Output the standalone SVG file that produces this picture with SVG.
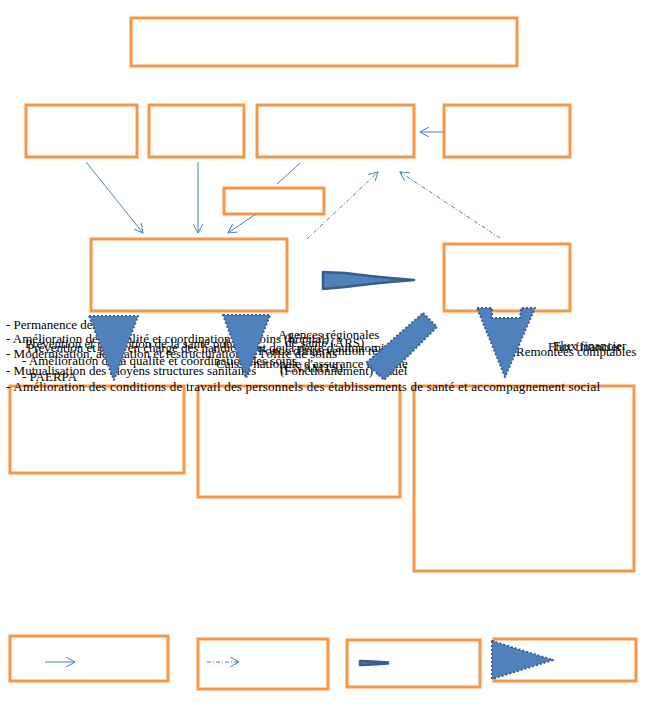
<svg xmlns="http://www.w3.org/2000/svg" width="647" height="708" viewBox="0 0 647 708">
<defs>
<style>
.box{fill:none;stroke:#F79646;stroke-width:3}
.ln{fill:none;stroke:#4A7EBB;stroke-width:1}
.dd{stroke-dasharray:4 2 1 2}
.big{fill:#4F81BD;stroke:#385D8A;stroke-width:2;stroke-dasharray:2 2;stroke-linejoin:round}
.wedge{fill:#4F81BD;stroke:#385D8A;stroke-width:2.5;stroke-linejoin:round}
.t{font-family:"Liberation Serif","Times New Roman",serif;font-size:13px;fill:#000}
</style>
<marker id="ah" viewBox="0 0 10 10" refX="9" refY="5" markerWidth="10" markerHeight="10" markerUnits="userSpaceOnUse" orient="auto">
<path d="M0,0 L9,5 L0,10" fill="none" stroke="#4A7EBB" stroke-width="1"/>
</marker>
</defs>
<rect width="647" height="708" fill="#fff"/>
<g id="n-b1"><rect class="box" x="10" y="386" width="174" height="87"/></g>
<g id="n-b2"><rect class="box" x="198" y="386" width="202" height="111"/></g>
<g id="n-b3"><rect class="box" x="414" y="386" width="220" height="185"/></g>
<g id="labels">
<text class="t" x="6" y="329">- Permanence des soins</text>
<text class="t" x="6" y="343">- Amélioration de la qualité et coordination des soins (hôpital)</text>
<text class="t" x="25" y="348">Prévention et promotion de la santé publique</text>
<text class="t" x="27" y="352">Prévention et prise en charge des handicaps et de la perte d'autonomie</text>
<text class="t" x="6" y="358">- Modernisation, adaptation et restructuration de l'offre de soins</text>
<text class="t" x="22" y="365">- Amélioration de la qualité et coordination des soins</text>
<text class="t" x="6" y="375">- Mutualisation des moyens structures sanitaires</text>
<text class="t" x="22" y="381">- PAERPA</text>
<text class="t" x="6" y="391" textLength="594" lengthAdjust="spacing">- Amélioration des conditions de travail des personnels  des établissements de santé et accompagnement social</text>
<text class="t" x="278" y="339">Agences régionales</text>
<text class="t" x="285" y="347">de santé (ARS)</text>
<text class="t" x="258" y="355">Fonds d'intervention régional</text>
<text class="t" x="216" y="368">Caisse nationale d'assurance maladie</text>
<text class="t" x="280" y="372">(CNAMTS)</text>
<text class="t" x="280" y="375">(Fonctionnement) actuel</text>
<text class="t" x="548" y="351">Flux financier</text>
<text class="t" x="553" y="350">Flux financier</text>
<text class="t" x="516" y="356">Remontées comptables</text>
</g>
<g id="n-top"><rect class="box" x="131" y="18" width="386" height="48"/></g>
<g id="n-r1"><rect class="box" x="26" y="105" width="111" height="52"/></g>
<g id="n-r2"><rect class="box" x="149" y="105" width="95" height="52"/></g>
<g id="n-r3"><rect class="box" x="257" y="105" width="157" height="52"/></g>
<g id="n-r4"><rect class="box" x="444" y="105" width="126" height="52"/></g>
<g id="n-small"><rect class="box" x="224" y="188" width="100" height="26"/></g>
<g id="n-left"><rect class="box" x="91" y="239" width="196" height="72"/></g>
<g id="n-right"><rect class="box" x="444" y="244" width="126" height="67"/></g>
<g id="n-l1"><rect class="box" x="10" y="636" width="158" height="45"/>
<line class="ln" x1="45" y1="662" x2="75" y2="662" marker-end="url(#ah)"/></g>
<g id="n-l2"><rect class="box" x="198" y="639" width="130" height="50"/>
<line class="ln dd" x1="207" y1="662" x2="239" y2="662" marker-end="url(#ah)"/></g>
<g id="n-l3"><rect class="box" x="347" y="640" width="133" height="47"/>
<polygon class="wedge" points="360,661 372,661.5 388,662.5 388,663.5 372,664.5 360,665"/></g>
<g id="n-l4"><rect class="box" x="494" y="639" width="142" height="42"/>
<polygon class="big" points="492,641 492,679 553,660"/></g>
<g id="connectors">
<line class="ln" x1="86" y1="162" x2="143" y2="233" marker-end="url(#ah)"/>
<line class="ln" x1="198" y1="162" x2="198" y2="233" marker-end="url(#ah)"/>
<line class="ln" x1="300" y1="163" x2="277" y2="184"/>
<line class="ln" x1="256" y1="214" x2="228" y2="233" marker-end="url(#ah)"/>
<line class="ln dd" x1="307" y1="239" x2="378" y2="172" marker-end="url(#ah)"/>
<line class="ln dd" x1="500" y1="238" x2="400" y2="172" marker-end="url(#ah)"/>
<line class="ln" x1="444" y1="132" x2="420" y2="132" marker-end="url(#ah)"/>
<polygon class="wedge" points="323,272 345,273 370,276 390,278 414,280 390,282 370,284 345,287 323,289"/>
<polygon class="big" points="89,316 138,316 114,380"/>
<polygon class="big" points="223,315 270,315 246,378"/>
<polygon class="big" points="423,313 437,327 384,380 366,363"/>
<polygon class="big" points="477,308 492,308 492,318 520,318 521,308 535,308 505,377"/>
</g>
</svg>
